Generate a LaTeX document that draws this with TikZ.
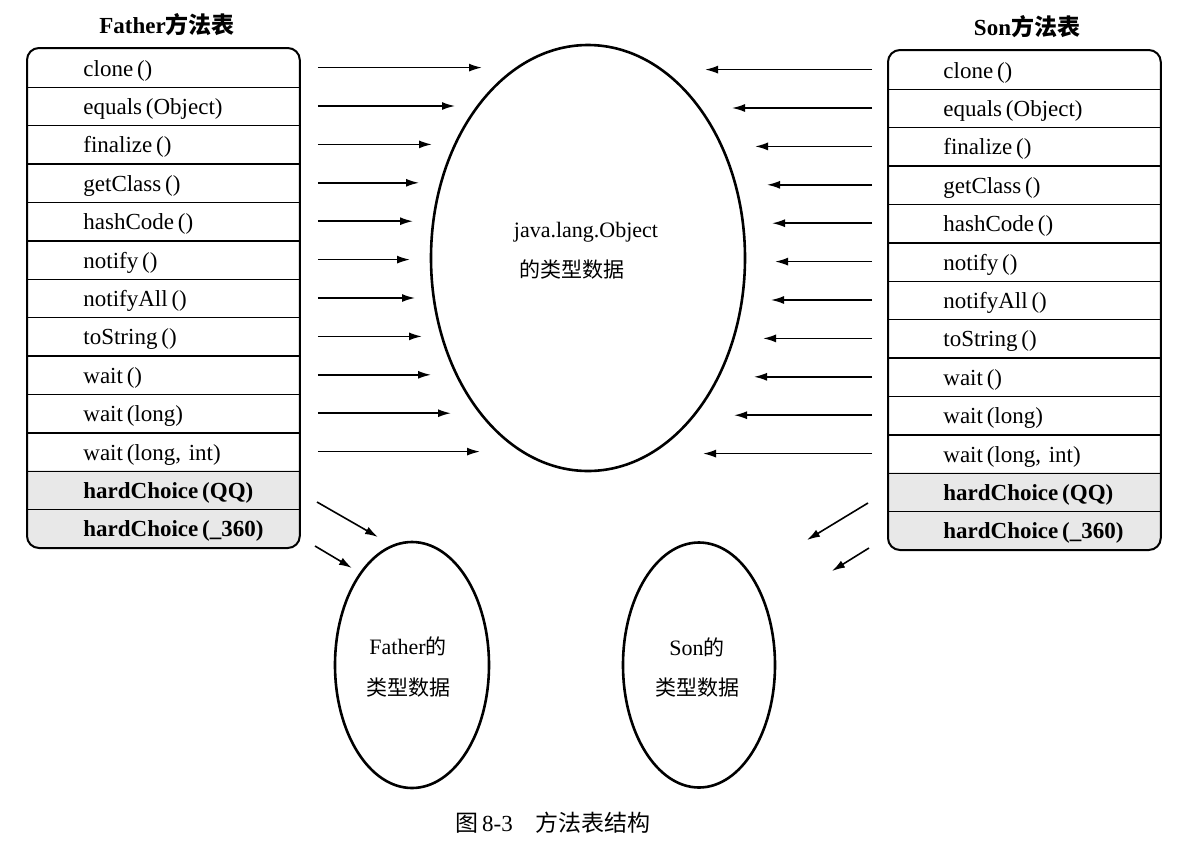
\documentclass[tikz,border=0pt]{standalone}
\usepackage{fontspec}
\setmainfont{Liberation Serif}
\newfontfamily\cjk{Noto Sans CJK SC}
\usetikzlibrary{arrows.meta,backgrounds,shapes.geometric}
\begin{document}
\begin{tikzpicture}[x=0.5pt,y=-0.5pt,
  every node/.style={font=\fontsize{11.5}{13}\selectfont},
  rowbox/.style={minimum height=19.2pt, inner sep=0pt, text width=136pt, text height=9.5pt, text depth=1pt, align=left, anchor=north west},
  tableline/.style={line width=1pt, rounded corners=6pt},
  sepline/.style={line width=0.7pt},
  arr/.style={-{Latex[length=6.5pt,width=4pt]}, line width=0.8pt},
  ell/.style={draw, ellipse, line width=1.3pt, inner sep=0pt},
  etext/.style={font=\fontsize{11}{13}\selectfont},
  shadecol/.style={fill=black!9},
]
\useasboundingbox (0,0) rectangle (1200,852);

% headers
\node (fh) at (167,25) {\bfseries Father{\cjk\bfseries 方法表}};
\node (sh) at (1027,27) {\bfseries Son{\cjk\bfseries 方法表}};

% Father table rows
\foreach \i/\t in {1/{clone\,()},2/{equals\,(Object)},3/{finalize\,()},4/{getClass\,()},5/{hashCode\,()},6/{notify\,()},7/{notifyAll\,()},8/{toString\,()},9/{wait\,()},10/{wait\,(long)},11/{wait\,(long, int)},12/{\textbf{hardChoice\,(QQ)}},13/{\textbf{hardChoice\,(\_360)}}}
  \node[rowbox] (f\i) at (27,{48+(\i-1)*38.4}) {\hspace*{28pt}\t};
% Son table rows
\foreach \i/\t in {1/{clone\,()},2/{equals\,(Object)},3/{finalize\,()},4/{getClass\,()},5/{hashCode\,()},6/{notify\,()},7/{notifyAll\,()},8/{toString\,()},9/{wait\,()},10/{wait\,(long)},11/{wait\,(long, int)},12/{\textbf{hardChoice\,(QQ)}},13/{\textbf{hardChoice\,(\_360)}}}
  \node[rowbox] (s\i) at (888,{50+(\i-1)*38.4}) {\hspace*{27.5pt}\t};

% background and shading of hardChoice rows
\begin{scope}[on background layer]
  \fill[white] (0,0) rectangle (1200,852);
  \begin{scope}
    \clip[rounded corners=6pt] (f1.north west) rectangle (f13.south east);
    \fill[shadecol] (f12.north west) rectangle (f13.south east);
  \end{scope}
  \begin{scope}
    \clip[rounded corners=6pt] (s1.north west) rectangle (s13.south east);
    \fill[shadecol] (s12.north west) rectangle (s13.south east);
  \end{scope}
\end{scope}

% outlines and separators
\draw[tableline] (f1.north west) rectangle (f13.south east);
\draw[tableline] (s1.north west) rectangle (s13.south east);
\foreach \i in {1,...,12} {
  \draw[sepline] (f\i.south west) -- (f\i.south east);
  \draw[sepline] (s\i.south west) -- (s\i.south east);
}

% ellipses
\node[ell, minimum width=157pt, minimum height=213pt] (obj) at (588,258) {};
\node[etext] (objt1) at (586,232) {java.lang.Object};
\node[etext] (objt2) at (572,270) {\cjk\fontsize{10.5}{12}\selectfont 的类型数据};

\node[ell, minimum width=77pt, minimum height=123pt] (fe) at (412,665) {};
\node[etext] (fet1) at (408,646) {Father{\cjk\fontsize{10.5}{12}\selectfont 的}};
\node[etext] (fet2) at (408,688) {\cjk\fontsize{10.5}{12}\selectfont 类型数据};

\node[ell, minimum width=76pt, minimum height=122.5pt] (se) at (699,665) {};
\node[etext] (set1) at (697,647) {Son{\cjk\fontsize{10.5}{12}\selectfont 的}};
\node[etext] (set2) at (697,688) {\cjk\fontsize{10.5}{12}\selectfont 类型数据};

% arrows Father -> Object
\foreach \i/\ex in {1/482,2/455,3/432,4/419,5/413,6/410,7/415,8/422,9/431,10/451,11/480} {
  \coordinate (fa\i) at (\ex,0);
  \draw[arr] ([xshift=9pt]f\i.east) -- (f\i.east -| fa\i);
}
% arrows Son -> Object
\foreach \i/\ex in {1/705,2/732,3/755,4/767,5/772,6/775,7/771,8/763,9/754,10/734,11/703} {
  \coordinate (sa\i) at (\ex,0);
  \draw[arr] ([xshift=-8pt]s\i.west) -- (s\i.west -| sa\i);
}

% diagonal arrows
\coordinate (d1s) at (317,502); \coordinate (d1e) at (378,537);
\coordinate (d2s) at (315,546); \coordinate (d2e) at (352,568);
\coordinate (d3s) at (868,503); \coordinate (d3e) at (807,540);
\coordinate (d4s) at (869,548); \coordinate (d4e) at (832,571);
\draw[arr] (d1s) -- (d1e);
\draw[arr] (d2s) -- (d2e);
\draw[arr] (d3s) -- (d3e);
\draw[arr] (d4s) -- (d4e);

% caption
\node (cap) at (553,823) {{\cjk 图}\,8-3\quad{\cjk 方法表结构}};
\end{tikzpicture}
\end{document}
